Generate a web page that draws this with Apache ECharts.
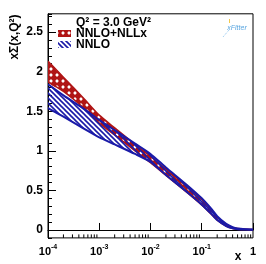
<!DOCTYPE html>
<html><head><meta charset="utf-8">
<script src="https://cdn.jsdelivr.net/npm/echarts@6/dist/echarts.min.js"></script>
<style>html,body{margin:0;padding:0;background:#fff}#c{width:266px;height:264px}</style>
</head><body><div id="c"></div>
<script>
// ---- data ----
const xValues   = [1e-4, 2e-4, 5e-4, 1e-3, 2e-3, 5e-3, 1e-2, 2e-2, 5e-2, 0.1, 0.15, 0.2, 0.3, 0.4, 0.5, 0.7, 1];
const nllxUpper = [2.13, 1.93, 1.66, 1.45, 1.29, 1.08, 0.93, 0.77, 0.555, 0.385, 0.26, 0.165, 0.07, 0.032, 0.018, 0.010, 0.007];
const nllxLower = [1.87, 1.75, 1.54, 1.35, 1.20, 1.00, 0.85, 0.69, 0.48, 0.315, 0.205, 0.125, 0.048, 0.019, 0.010, 0.005, 0.003];
const nnloUpper = [1.84, 1.70, 1.53, 1.39, 1.26, 1.09, 0.96, 0.79, 0.575, 0.40, 0.275, 0.175, 0.078, 0.036, 0.019, 0.010, 0.007];
const nnloLower = [1.54, 1.43, 1.28, 1.17, 1.08, 0.96, 0.86, 0.695, 0.485, 0.32, 0.21, 0.125, 0.05, 0.020, 0.010, 0.005, 0.003];
const xDecades  = [1e-4, 1e-3, 1e-2, 1e-1, 1];
const xMinorTicks = [];
for (let d = 0; d < xDecades.length - 1; d++) for (let k = 2; k <= 9; k++) xMinorTicks.push(xDecades[d] * k);
const yTickLabels = ['0', '0.5', '1', '1.5', '2', '2.5'];
const legendTitle = 'Q\u00b2 = 3.0 GeV\u00b2';
const seriesNames = ['NNLO+NLLx', 'NNLO'];

const Y_MIN = -0.1, Y_MAX = 2.73;
const RED = '#b01515', BLUE = '#1a1aa8';

function redPattern() {
  const c = document.createElement('canvas'); c.width = 6; c.height = 6;
  const g = c.getContext('2d');
  g.fillStyle = RED; g.fillRect(0, 0, 6, 6);
  g.fillStyle = '#fff'; g.beginPath();
  g.moveTo(3, 1.1); g.lineTo(4.9, 3); g.lineTo(3, 4.9); g.lineTo(1.1, 3); g.closePath(); g.fill();
  return { image: c, repeat: 'repeat' };
}
function bluePattern() {
  const w = 5, h = 5;
  const c = document.createElement('canvas'); c.width = w; c.height = h;
  const g = c.getContext('2d');
  g.strokeStyle = BLUE; g.lineWidth = 1.6;
  for (let m = -1; m <= 1; m++) { g.beginPath(); g.moveTo(-1, m * h - h / w); g.lineTo(w + 1, m * h + h + h / w); g.stroke(); }
  return { image: c, repeat: 'repeat' };
}
const rows = (lo, up) => xValues.map((x, i) => [x, lo[i], up[i]]);

function bandSeries(name, color, data, pattern, lw) {
  return {
    type: 'custom', name: name, xAxisIndex: 0, yAxisIndex: 0, silent: true, clip: true,
    data: data, encode: { x: 0, y: [1, 2] },
    renderItem: (params, api) => {
      if (params.dataIndex !== 0) return null;
      const n = data.length, up = [], lo = [];
      for (let i = 0; i < n; i++) {
        up.push(api.coord([api.value(0, i), api.value(2, i)]));
        lo.push(api.coord([api.value(0, i), api.value(1, i)]));
      }
      const poly = up.concat(lo.slice().reverse());
      return { type: 'group', children: [
        { type: 'polygon', shape: { points: poly, smooth: 0.2 }, style: { fill: pattern, stroke: null } },
        { type: 'polyline', shape: { points: up, smooth: 0.2 }, style: { stroke: color, lineWidth: lw, fill: null } },
        { type: 'polyline', shape: { points: lo, smooth: 0.2 }, style: { stroke: color, lineWidth: lw, fill: null } }
      ] };
    }
  };
}

const chart = echarts.init(document.getElementById('c'), null, { renderer: 'canvas' });
const font = 'Liberation Sans';
chart.setOption({
  animation: false,
  textStyle: { fontFamily: font },
  grid: [
    { left: 48, right: 13, top: 13.8, bottom: 26.1, show: true, borderColor: '#000', borderWidth: 1, backgroundColor: 'transparent' },
    { left: 48, right: 13, top: 32, bottom: 34 }
  ],
  xAxis: [
    { gridIndex: 0, type: 'log', logBase: 10, min: 1e-4, max: 1,
      axisLine: { lineStyle: { color: '#000', width: 1 } },
      axisTick: { inside: true, length: 7, lineStyle: { color: '#000' } },
      splitLine: { show: false }, minorTick: { show: false },
      axisLabel: { margin: 6, color: '#000', fontWeight: 'bold', fontSize: 11,
        formatter: v => v === 1 ? '{b|1}' : '{b|10}{s|' + Math.round(Math.log10(v)) + '}',
        rich: { b: { fontSize: 11, fontWeight: 'bold', color: '#000', lineHeight: 14, verticalAlign: 'bottom' },
                s: { fontSize: 7, fontWeight: 'bold', color: '#000', lineHeight: 14, verticalAlign: 'top' } } } },
    { gridIndex: 1, type: 'value', show: false, min: 0, max: 1 }
  ],
  yAxis: [
    { gridIndex: 0, type: 'value', min: Y_MIN, max: Y_MAX, interval: 0.1,
      axisLine: { show: true, lineStyle: { color: '#000', width: 1 } },
      axisTick: { inside: true, length: 4, lineStyle: { color: '#000' } },
      axisLabel: { show: false }, splitLine: { show: false } },
    { gridIndex: 1, type: 'value', min: 0, max: 2.5, interval: 0.5,
      axisLine: { show: false },
      axisTick: { show: true, inside: true, length: 8, lineStyle: { color: '#000' } },
      axisLabel: { margin: 5, color: '#000', fontWeight: 'bold', fontSize: 12, formatter: (v, i) => yTickLabels[i] },
      splitLine: { show: false } }
  ],
  series: [
    bandSeries(seriesNames[0], RED, rows(nllxLower, nllxUpper), redPattern(), 1.5),
    bandSeries(seriesNames[1], BLUE, rows(nnloLower, nnloUpper), bluePattern(), 2),
    { type: 'custom', xAxisIndex: 0, yAxisIndex: 0, silent: true, clip: false,
      data: xMinorTicks.map(x => [x, Y_MIN]), encode: { x: 0, y: 1 },
      renderItem: (params, api) => {
        const p = api.coord([api.value(0), api.value(1)]);
        return { type: 'line', shape: { x1: p[0], y1: p[1], x2: p[0], y2: p[1] - 3.5 }, style: { stroke: '#000', lineWidth: 1 } };
      } }
  ],
  graphic: [
    { type: 'text', x: 15, y: 37, rotation: Math.PI / 2,
      style: { text: 'x\u03a3(x,Q\u00b2)', font: 'bold 12px "Liberation Sans"', fill: '#000', align: 'center', verticalAlign: 'middle' } },
    { type: 'text', x: 238, y: 257, style: { text: 'x', font: 'bold 12px "Liberation Sans"', fill: '#000', align: 'center', verticalAlign: 'middle' } },
    { type: 'text', x: 76, y: 23, style: { text: legendTitle, font: 'bold 12px "Liberation Sans"', fill: '#000', align: 'left', verticalAlign: 'middle' } },
    { type: 'rect', shape: { x: 58, y: 30, width: 13, height: 7 }, style: { fill: redPattern() } },
    { type: 'text', x: 76, y: 34, style: { text: seriesNames[0], font: 'bold 12px "Liberation Sans"', fill: '#000', align: 'left', verticalAlign: 'middle' } },
    { type: 'rect', shape: { x: 58, y: 41, width: 13, height: 7 }, style: { fill: bluePattern() } },
    { type: 'text', x: 76, y: 45, style: { text: seriesNames[1], font: 'bold 12px "Liberation Sans"', fill: '#000', align: 'left', verticalAlign: 'middle' } },
    { type: 'text', x: 237, y: 28, style: { text: 'xFitter', font: 'italic 7px "Liberation Sans"', fill: '#5aa6e0', align: 'center', verticalAlign: 'middle' } },
    { type: 'line', shape: { x1: 229, y1: 30, x2: 223, y2: 37 }, style: { stroke: '#8cc4ee', lineWidth: 1, lineDash: [1, 1] } },
    { type: 'line', shape: { x1: 229.5, y1: 19, x2: 229.5, y2: 23 }, style: { stroke: '#f2c94c', lineWidth: 1 } }
  ]
});
</script>
</body></html>
